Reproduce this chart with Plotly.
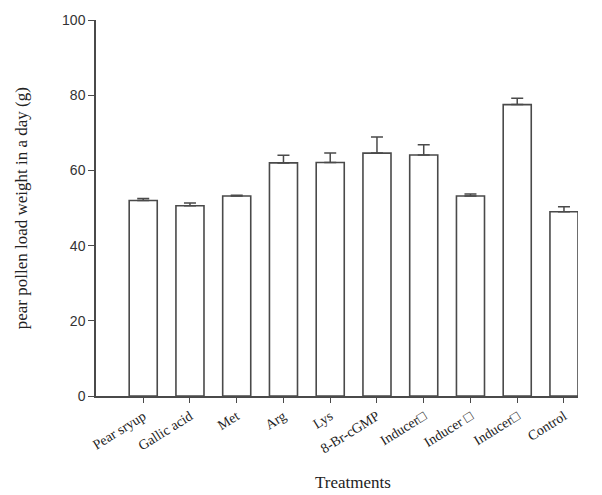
import plotly.graph_objects as go

# Treatments and mean pollen load weight (g) with upper error
treatments = ["Pear sryup", "Gallic acid", "Met", "Arg", "Lys", "8-Br-cGMP",
              "Inducer\u25a1", "Inducer \u25a1", "Inducer\u25a1", "Control"]
tick_labels = treatments
means = [52.0, 50.6, 53.2, 62.0, 62.1, 64.6, 64.1, 53.2, 77.5, 49.0]
errors = [0.5, 0.7, 0.2, 2.0, 2.5, 4.3, 2.7, 0.5, 1.7, 1.3]

positions = list(range(len(treatments)))
line_col = "#4a4a4a"

fig = go.Figure()
fig.add_trace(go.Bar(
    x=positions,
    y=means,
    width=0.6,
    marker=dict(color="white", line=dict(color=line_col, width=1.6)),
    error_y=dict(type="data", symmetric=False, array=errors,
                 arrayminus=[0] * len(errors),
                 color=line_col, thickness=1.5, width=6),
    showlegend=False,
))

fig.update_layout(
    width=602, height=495,
    margin=dict(l=96, r=24, t=15, b=99),
    paper_bgcolor="white", plot_bgcolor="white",
    xaxis=dict(
        range=[-1.01, 9.3],
        tickmode="array", tickvals=positions, ticktext=tick_labels,
        tickangle=-32,
        ticks="outside", ticklen=5, tickcolor=line_col, tickwidth=1.2,
        showline=True, linecolor=line_col, linewidth=1.5,
        showgrid=False, zeroline=False,
        tickfont=dict(family="Liberation Serif", size=14, color="#222"),
    ),
    yaxis=dict(
        range=[0, 100],
        tickvals=[0, 20, 40, 60, 80, 100],
        ticks="outside", ticklen=6, tickcolor=line_col, tickwidth=1.2,
        showline=True, linecolor=line_col, linewidth=1.5,
        showgrid=False, zeroline=False,
        tickfont=dict(family="Liberation Sans", size=14, color="#333"),
    ),
    annotations=[
        dict(text="Treatments", xref="paper", yref="paper",
             x=0.533, y=-0.231, xanchor="center", yanchor="middle",
             showarrow=False,
             font=dict(family="Liberation Serif", size=17, color="#222")),
        dict(text="pear pollen load weight in a day (g)", xref="paper",
             yref="paper", x=-0.155, y=0.5, textangle=-90,
             xanchor="center", yanchor="middle", showarrow=False,
             font=dict(family="Liberation Serif", size=17, color="#222")),
    ],
)

fig.write_html("out.html")
